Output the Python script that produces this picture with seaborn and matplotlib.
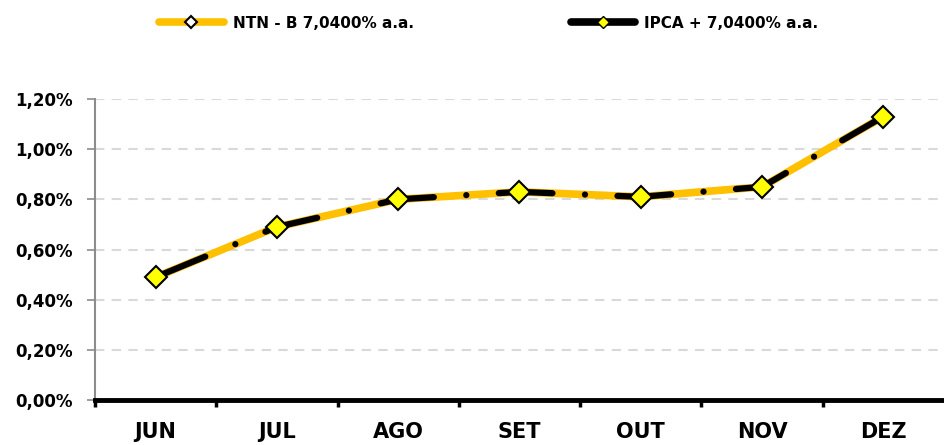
import pandas as pd
import seaborn as sns
import matplotlib.pyplot as plt
from matplotlib.lines import Line2D

# 1. Dados
meses = ['JUN', 'JUL', 'AGO', 'SET', 'OUT', 'NOV', 'DEZ']
ntnb = [0.49, 0.69, 0.80, 0.83, 0.81, 0.85, 1.13]
ipca = [0.49, 0.69, 0.80, 0.83, 0.81, 0.85, 1.13]
y_ticks = [0.0, 0.2, 0.4, 0.6, 0.8, 1.0, 1.2]
y_labels = ['0,00%', '0,20%', '0,40%', '0,60%', '0,80%', '1,00%', '1,20%']
nome_ntnb = 'NTN - B 7,0400% a.a.'
nome_ipca = 'IPCA + 7,0400% a.a.'

df = pd.DataFrame({'Mes': meses, 'NTNB': ntnb, 'IPCA': ipca})

# 2. Estilo geral
sns.set_theme(style='white')
plt.rcParams['font.family'] = ['DejaVu Sans']
plt.rcParams['font.weight'] = 'bold'
plt.rcParams['text.color'] = 'black'

fig = plt.figure(figsize=(9.44, 4.45), dpi=100)
ax = fig.add_axes([0.1006, 0.101, 0.8994, 0.6765])

# 3. Linhas (a preta tracejada por cima da laranja)
sns.lineplot(data=df, x='Mes', y='NTNB', color='#FFC000', linewidth=5.5,
             solid_capstyle='round', errorbar=None, sort=False, ax=ax)
sns.lineplot(data=df, x='Mes', y='IPCA', color='black', linewidth=4.5,
             linestyle=(0, (8.6, 5.2, 0.01, 5.2)), dash_capstyle='round',
             marker='D', markersize=11.5, markerfacecolor='#FFFF00',
             markeredgecolor='black', markeredgewidth=1.5,
             errorbar=None, sort=False, ax=ax)

# 4. Eixos e grade
ax.set_xlim(-0.5, 6.5)
ax.set_ylim(0, 1.2)
ax.set_yticks(y_ticks)
ax.set_yticklabels(y_labels)
ax.set_xticks(range(len(meses)))
ax.set_xticklabels(meses)
ax.set_xticks([i - 0.5 for i in range(len(meses))], minor=True)
ax.set_xlabel('')
ax.set_ylabel('')

ax.yaxis.grid(True, linestyle=(0, (4.5, 3.5)), color='#d9d9d9', linewidth=1.5)
ax.set_axisbelow(True)

sns.despine(ax=ax)
ax.spines['left'].set_color('#8c8c8c')
ax.spines['left'].set_linewidth(1.5)
ax.spines['bottom'].set_color('black')
ax.spines['bottom'].set_linewidth(3.5)

ax.tick_params(axis='y', which='major', left=True, length=6, width=1.2,
               color='#8c8c8c', pad=10, labelsize=12, labelcolor='black')
ax.tick_params(axis='x', which='major', bottom=False, length=0, pad=16,
               labelsize=15, labelcolor='black')
ax.tick_params(axis='x', which='minor', bottom=True, length=5, width=2.5,
               color='black')

# 5. Legenda no topo, com as duas entradas bem afastadas
handles = [
    Line2D([], [], color='#FFC000', linewidth=5.5, solid_capstyle='round',
           marker='D', markersize=6, markerfacecolor='white',
           markeredgecolor='black', markeredgewidth=1.5),
    Line2D([], [], color='black', linewidth=5.5, solid_capstyle='round',
           marker='D', markersize=6, markerfacecolor='#FFFF00',
           markeredgecolor='black', markeredgewidth=1),
]
fig.legend(handles, [nome_ntnb, nome_ipca], loc='center',
           bbox_to_anchor=(0.518, 0.948), ncol=2, frameon=False,
           fontsize=11, handlelength=4.2, handletextpad=0.6,
           columnspacing=10.3)

fig.savefig('out.png', dpi=100)
